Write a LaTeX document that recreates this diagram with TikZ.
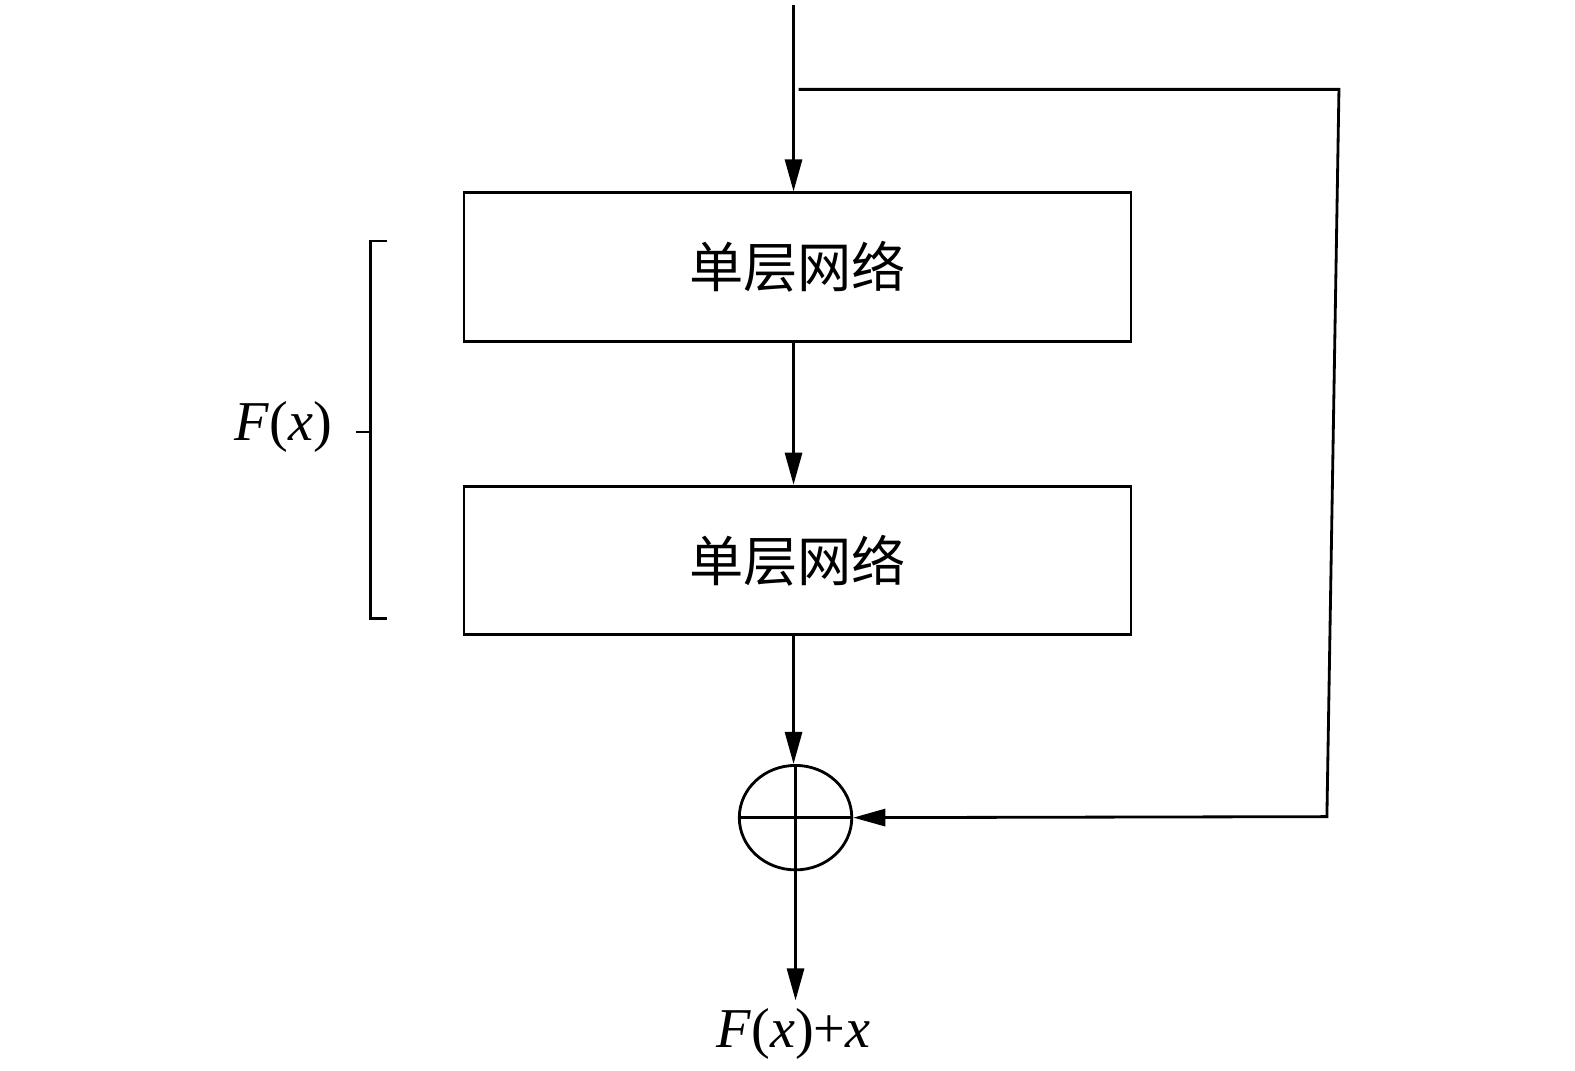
\documentclass[tikz,border=0pt]{standalone}
\usepackage{fontspec}
\setmainfont{Liberation Serif}
\newfontfamily\cjk{Noto Sans CJK SC}
\usetikzlibrary{arrows.meta,shapes.geometric}
\begin{document}
\begin{tikzpicture}[x=0.5pt,y=-0.5pt,
  line width=1.4pt,
  arr/.style={-{Triangle[length=16pt,width=8.5pt]}},
  layer/.style={draw,rectangle,minimum width=332pt,minimum height=74pt,inner sep=0pt,font=\cjk\fontsize{27}{30}\selectfont},
  lab/.style={font=\fontsize{28}{32}\selectfont,inner sep=1pt}]
\useasboundingbox (0,0) rectangle (1568,1066);
\coordinate (in) at (790,5);
\node[layer] (b1) at (794,266) {单层网络};
\node[layer] (b2) at (794,558) {单层网络};
\node[draw,ellipse,minimum width=56pt,minimum height=52pt,inner sep=0pt] (sum) at (792,814) {};
\node[lab] (out) at (790,1029) {\textit{F}(\textit{x})+\textit{x}};
\node[lab] (fx) at (282,425) {\textit{F}(\textit{x})};
\coordinate (s0) at (795,89);
\coordinate (s1) at (1333,89);
\coordinate (s2) at (1321,813);
\coordinate (bt) at (385,240);
\coordinate (bb) at (385,616);
\coordinate (bm) at (354,430);
\coordinate (outtip) at (792,996);
% main path
\draw[arr] (in) -- (in |- b1.north);
\draw[arr] (b1.south -| in) -- (b2.north -| in);
\draw[arr] (b2.south -| in) -- (in |- sum.north);
\draw (sum.north) -- (sum.south) (sum.west) -- (sum.east);
\draw[arr] (sum.south) -- (outtip);
% shortcut
\draw[arr] (s0) -- (s1) -- (s2) -- (sum.east);
% brace
\draw (bt) -- (369,240) -- (369,616) -- (bb);
\draw (369,430) -- (bm);
\end{tikzpicture}
\end{document}
